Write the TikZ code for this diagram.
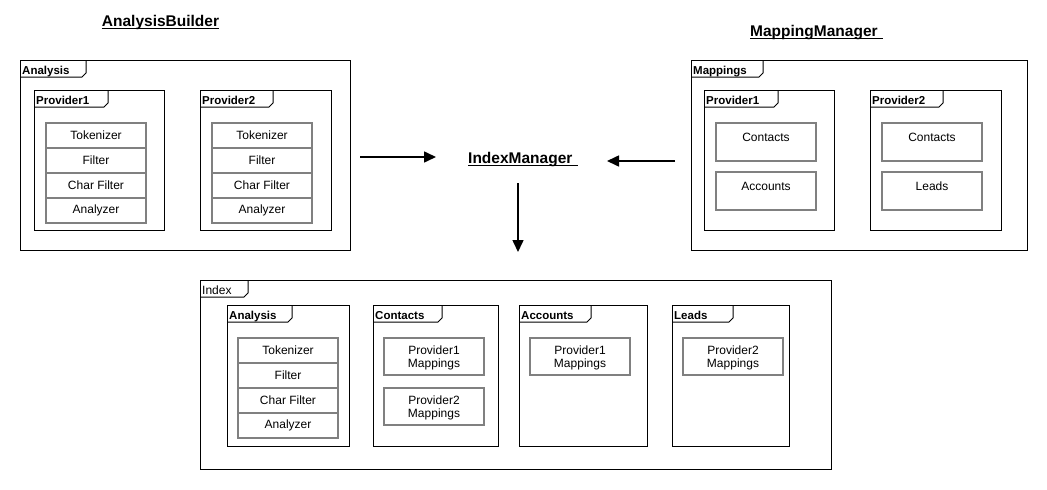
\documentclass[tikz,border=0pt]{standalone}
\usepackage{fontspec}
\setmainfont{Liberation Sans}
\usetikzlibrary{arrows.meta}
\begin{document}
\begin{tikzpicture}[x=1pt,y=-1pt,
  pkgframe/.style={draw=black, line width=1pt, inner sep=0pt, outer sep=0pt, rectangle, anchor=north west},
  tabline/.style={draw=black, line width=1pt},
  tablabel/.style={font=\fontsize{11.5}{13}\selectfont\bfseries, inner sep=0pt, anchor=base west},
  tabplain/.style={font=\fontsize{12}{13}\selectfont, inner sep=0pt, anchor=base west},
  grbox/.style={draw=black!50, line width=1.6pt, inner sep=0pt, outer sep=0pt, rectangle, anchor=north west,
    minimum width=100pt, font=\fontsize{12}{13}\selectfont, align=center},
  rowbox/.style={grbox, minimum height=25pt},
  txt/.style={font=\fontsize{12}{13}\selectfont, inner sep=0pt, align=center},
  heading/.style={font=\fontsize{15.5}{17}\selectfont\bfseries, inner sep=0pt},
  uline/.style={draw=black, line width=1pt},
  arr/.style={draw=black, line width=1.6pt, -{Triangle[length=12pt,width=11pt]}}
]
\useasboundingbox (0,0) rectangle (1047,490);
\fill[white] (0,0) rectangle (1047,490);

% frame with tab: name, x1, y1, x2, y2, tab right, label, label style
\newcommand{\umlpkg}[8]{%
  \node[pkgframe, minimum width={#4-#2}, minimum height={#5-#3}] (#1) at (#2,#3) {};
  \draw[tabline] (#2,#3+17) -- (#6-4,#3+17) -- (#6,#3+13) -- (#6,#3);
  \node[#8] (#1-lbl) at (#2+2,#3+14) {#7};
}
% analysis stack: prefix, x, y
\newcommand{\umlstack}[3]{%
  \node[rowbox] (#1-tok) at (#2,#3) {Tokenizer};
  \node[rowbox] (#1-fil) at (#2,#3+25) {Filter};
  \node[rowbox] (#1-chf) at (#2,#3+50) {Char Filter};
  \node[rowbox] (#1-ana) at (#2,#3+75) {Analyzer};
}
% mapping box with text near top: name, x, y, text
\newcommand{\mapbox}[4]{%
  \node[grbox, minimum height=38pt] (#1) at (#2,#3) {};
  \node[txt] (#1-t) at (#2+50,#3+14) {#4};
}
% two-line mapping box: name, x, y, line1
\newcommand{\provbox}[4]{%
  \node[grbox, minimum height=37pt] (#1) at (#2,#3) {};
  \node[txt] (#1-t) at (#2+50,#3+20) {#4\\Mappings};
}

% headings
\node[heading, anchor=base] (ab) at (160.5,26) {AnalysisBuilder};
\draw[uline] ([yshift=-2pt]ab.base west) -- ([yshift=-2pt]ab.base east);
\node[heading, anchor=base west] (mm) at (750,36) {MappingManager\kern5pt};
\draw[uline] ([yshift=-2pt]mm.base west) -- ([yshift=-2pt]mm.base east);
\node[heading, anchor=base west] (im) at (468,163) {IndexManager\kern5pt};
\draw[uline] ([yshift=-2pt]im.base west) -- ([yshift=-2pt]im.base east);

% Analysis (top left)
\umlpkg{analysis}{20}{60}{350}{250}{86}{Analysis}{tablabel}
\umlpkg{ap1}{34}{90}{164}{230}{108}{Provider1}{tablabel}
\umlpkg{ap2}{200}{90}{331}{230}{273}{Provider2}{tablabel}
\umlstack{s1}{46}{123}
\umlstack{s2}{212}{123}

% Mappings (top right)
\umlpkg{mappings}{691}{60}{1027}{250}{763}{Mappings}{tablabel}
\umlpkg{mp1}{704}{90}{834}{230}{778}{Provider1}{tablabel}
\umlpkg{mp2}{870}{90}{1001}{230}{943}{Provider2}{tablabel}
\mapbox{m1c}{716}{123}{Contacts}
\mapbox{m1a}{716}{172}{Accounts}
\mapbox{m2c}{882}{123}{Contacts}
\mapbox{m2l}{882}{172}{Leads}

% Index (bottom)
\umlpkg{index}{200}{280}{831}{469}{248}{Index}{tabplain}
\umlpkg{ia}{227}{305}{349}{446}{292}{Analysis}{tablabel}
\umlstack{s3}{238}{338}
\umlpkg{ic}{373}{305}{498}{446}{442}{Contacts}{tablabel}
\provbox{ic1}{384}{338}{Provider1}
\provbox{ic2}{384}{388}{Provider2}
\umlpkg{iac}{519}{305}{647}{446}{591}{Accounts}{tablabel}
\provbox{iac1}{530}{338}{Provider1}
\umlpkg{il}{672}{305}{789}{446}{733}{Leads}{tablabel}
\provbox{il1}{683}{338}{Provider2}

% arrows
\coordinate (imL) at (436,157);
\coordinate (imR) at (607,161);
\coordinate (imD) at (518,252);
\draw[arr] ([xshift=10pt]analysis.east |- imL) -- (imL);
\draw[arr] ([xshift=-16pt]mappings.west |- imR) -- (imR);
\draw[arr] ([yshift=-17pt]im.south -| imD) -- (imD);
\end{tikzpicture}
\end{document}
